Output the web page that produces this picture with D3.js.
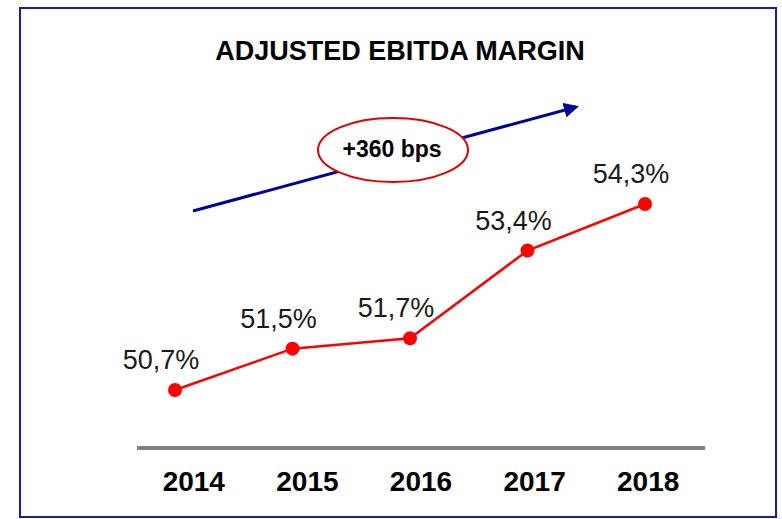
<!DOCTYPE html>
<html><head><meta charset="UTF-8">
  <title>Adjusted EBITDA Margin</title>
  <script src="https://d3js.org/d3.v7.min.js"></script>
  <style>
    body { margin: 0; background: #fff; }
    text { font-family: "Liberation Sans", Arial, sans-serif; }
  </style>
</head>
<body>
  <svg width="782" height="519"></svg>
  <script>
    // data
    const years = ["2014", "2015", "2016", "2017", "2018"]
    const margin = [50.7, 51.5, 51.7, 53.4, 54.3]
    const labels = ["50,7%", "51,5%", "51,7%", "53,4%", "54,3%"]
    const title = "ADJUSTED EBITDA MARGIN"
    const note = "+360 bps"

    const data = years.map((y, i) => ({year: y, value: margin[i], label: labels[i]}))

    const svg = d3.select("svg")

    // frame
    svg.append("rect")
      .attr("x", 20).attr("y", 8)
      .attr("width", 756).attr("height", 509)
      .attr("fill", "none")
      .attr("stroke", "#1c1ca6")
      .attr("stroke-width", 2)

    // title + underline with a soft shadow
    const defs = svg.append("defs")
    const f = defs.append("filter").attr("id", "shadow").attr("height", "300%").attr("y", "-100%")
    f.append("feDropShadow").attr("dx", 0).attr("dy", 3).attr("stdDeviation", 2)
      .attr("flood-color", "#000").attr("flood-opacity", 0.35)

    svg.append("text")
      .attr("x", 400).attr("y", 60)
      .attr("text-anchor", "middle")
      .style("font-size", "27px")
      .style("font-weight", "bold")
      .text(title)

    svg.append("line")
      .attr("x1", 42).attr("x2", 752)
      .attr("y1", 76).attr("y2", 76)
      .attr("stroke", "#000099")
      .attr("stroke-width", 5)
      .attr("filter", "url(#shadow)")

    // scales
    const xBand = d3.scaleBand().domain(years).range([137, 705])
    const x = d3.scalePoint().domain(years).range([175, 645])
    const y = d3.scaleLinear().domain([50.7, 54.3]).range([390, 204])

    // base line
    svg.append("line")
      .attr("x1", 137).attr("x2", 705)
      .attr("y1", 448).attr("y2", 448)
      .attr("stroke", "#808080")
      .attr("stroke-width", 4)

    // year labels
    svg.selectAll(".year")
      .data(years)
      .join("text")
        .attr("class", "year")
        .attr("x", d => xBand(d) + xBand.bandwidth() / 2)
        .attr("y", 491)
        .attr("text-anchor", "middle")
        .style("font-size", "28px")
        .style("font-weight", "bold")
        .text(d => d)

    // trend arrow
    defs.append("marker")
      .attr("id", "arrow")
      .attr("viewBox", "0 0 10 10")
      .attr("refX", 8).attr("refY", 5)
      .attr("markerWidth", 5).attr("markerHeight", 5)
      .attr("orient", "auto")
      .append("path").attr("d", "M0,0L10,5L0,10Z").attr("fill", "#00009c")

    svg.append("line")
      .attr("x1", 193).attr("y1", 211)
      .attr("x2", 576).attr("y2", 107)
      .attr("stroke", "#00009c")
      .attr("stroke-width", 3)
      .attr("marker-end", "url(#arrow)")

    svg.append("ellipse")
      .attr("cx", 393).attr("cy", 150)
      .attr("rx", 75).attr("ry", 32)
      .attr("fill", "#fff")
      .attr("stroke", "#e00000")
      .attr("stroke-width", 2)

    svg.append("text")
      .attr("x", 392).attr("y", 157)
      .attr("text-anchor", "middle")
      .style("font-size", "23px")
      .style("font-weight", "bold")
      .text(note)

    // line + dots
    const line = d3.line()
      .x(d => x(d.year))
      .y(d => y(d.value))

    svg.append("path")
      .datum(data)
      .attr("d", line)
      .attr("fill", "none")
      .attr("stroke", "#ff0000")
      .attr("stroke-width", 2.5)

    svg.selectAll(".dot")
      .data(data)
      .join("circle")
        .attr("class", "dot")
        .attr("cx", d => x(d.year))
        .attr("cy", d => y(d.value))
        .attr("r", 7)
        .attr("fill", "#ff0000")

    svg.selectAll(".val")
      .data(data)
      .join("text")
        .attr("class", "val")
        .attr("x", d => x(d.year) - 14)
        .attr("y", d => y(d.value) - 21)
        .attr("text-anchor", "middle")
        .style("font-size", "27px")
        .attr("fill", "#1a1a1a")
        .text(d => d.label)
  </script>
</body></html>
